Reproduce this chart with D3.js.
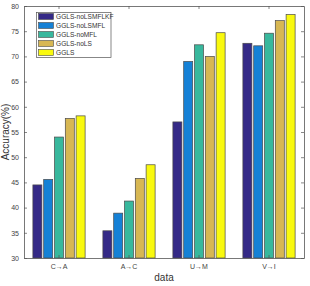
<!DOCTYPE html>
<html>
<head>
<meta charset="utf-8">
<script src="https://cdn.jsdelivr.net/npm/d3@7"></script>
<style>
body { margin: 0; background: #fff; }
svg { display: block; font-family: "Liberation Sans", Arial, sans-serif; }
</style>
</head>
<body>
<svg width="310" height="286"></svg>
<script>
var categories = ["C\u2192A", "A\u2192C", "U\u2192M", "V\u2192I"];
var series = ["GGLS-noLSMFLKF", "GGLS-noLSMFL", "GGLS-noMFL", "GGLS-noLS", "GGLS"];
var colors = ["#352a87", "#1581d6", "#38b89d", "#d7b753", "#f9f90e"];
var noLSMFLKF = [44.5, 35.4, 57.0, 72.6];
var noLSMFL = [45.6, 38.9, 69.0, 72.1];
var noMFL = [54.0, 41.3, 72.3, 74.6];
var noLS = [57.7, 45.8, 70.0, 77.1];
var full = [58.2, 48.5, 74.7, 78.3];
var yTicks = [30, 35, 40, 45, 50, 55, 60, 65, 70, 75, 80];

var values = [noLSMFLKF, noLSMFL, noMFL, noLS, full];

var svg = d3.select("svg");
var mLeft = 24, mRight = 304, mTop = 6, mBottom = 258;

var x0 = d3.scaleBand().domain(categories).range([mLeft, mRight])
  .paddingInner(0.254).paddingOuter(0.127);
var x1 = d3.scaleBand().domain(series).range([0, x0.bandwidth()])
  .paddingInner(0.167).paddingOuter(0);
var y = d3.scaleLinear().domain([30, 80]).range([mBottom, mTop]);

// bars
var groups = svg.append("g").selectAll("g")
  .data(categories)
  .enter().append("g")
  .attr("transform", function (d) { return "translate(" + x0(d) + ",0)"; });

groups.selectAll("rect")
  .data(function (d, i) {
    return series.map(function (s, j) { return {s: s, j: j, v: values[j][i]}; });
  })
  .enter().append("rect")
  .attr("x", function (d) { return x1(d.s); })
  .attr("y", function (d) { return y(d.v); })
  .attr("width", x1.bandwidth())
  .attr("height", function (d) { return y(30) - y(d.v); })
  .attr("fill", function (d) { return colors[d.j]; })
  .attr("stroke", "#4a4a4a")
  .attr("stroke-width", 0.7);

var axisColor = "#555";
var tickColor = "#444";

// axes (MATLAB-style box with inward ticks)
var xAxis = d3.axisBottom(x0).tickSizeInner(-3).tickSizeOuter(0).tickPadding(6);
var gx = svg.append("g").attr("transform", "translate(0," + mBottom + ")").call(xAxis);
var xTop = d3.axisTop(x0).tickSizeInner(-3).tickSizeOuter(0).tickFormat("");
var gxt = svg.append("g").attr("transform", "translate(0," + mTop + ")").call(xTop);

var yAxis = d3.axisLeft(y).tickValues(yTicks).tickSizeInner(-3).tickSizeOuter(0).tickPadding(5);
var gy = svg.append("g").attr("transform", "translate(" + mLeft + ",0)").call(yAxis);
var yRight = d3.axisRight(y).tickValues(yTicks).tickSizeInner(-3).tickSizeOuter(0).tickFormat("");
var gyr = svg.append("g").attr("transform", "translate(" + mRight + ",0)").call(yRight);

[gx, gxt, gy, gyr].forEach(function (g) {
  g.select(".domain").attr("stroke", axisColor).attr("stroke-width", 0.8);
  g.selectAll(".tick line").attr("stroke", axisColor).attr("stroke-width", 0.7);
  g.selectAll(".tick text").attr("fill", tickColor).attr("font-size", 7)
    .attr("font-family", "Liberation Sans, Arial, sans-serif");
});

// axis labels
svg.append("text")
  .attr("x", (mLeft + mRight) / 2).attr("y", 281)
  .attr("text-anchor", "middle").attr("font-size", 10).attr("fill", "#333")
  .text("data");

svg.append("text")
  .attr("transform", "translate(9," + ((mTop + mBottom) / 2) + ") rotate(-90)")
  .attr("text-anchor", "middle").attr("font-size", 10).attr("fill", "#333")
  .text("Accuracy(%)");

// legend
var lg = svg.append("g").attr("transform", "translate(36.5,12.5)");
lg.append("rect")
  .attr("width", 74.5).attr("height", 45)
  .attr("fill", "#fff").attr("stroke", "#555").attr("stroke-width", 0.7);

var row = lg.selectAll("g.item")
  .data(series)
  .enter().append("g")
  .attr("class", "item")
  .attr("transform", function (d, i) { return "translate(2," + (1 + i * 9) + ")"; });

row.append("rect")
  .attr("width", 15).attr("height", 6)
  .attr("fill", function (d, i) { return colors[i]; })
  .attr("stroke", "#4a4a4a").attr("stroke-width", 0.6);

row.append("text")
  .attr("x", 17.5).attr("y", 5.7)
  .attr("font-size", 6.6).attr("fill", "#333")
  .text(function (d) { return d; });
</script>
</body>
</html>
